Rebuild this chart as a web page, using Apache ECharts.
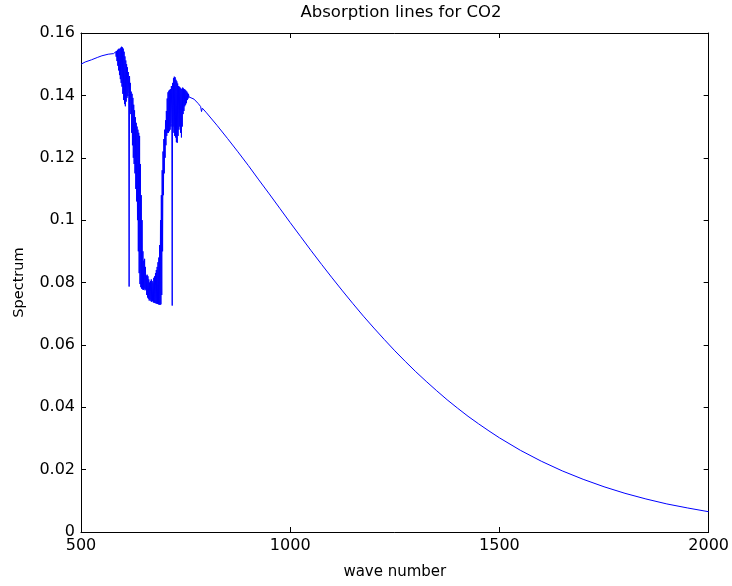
<!DOCTYPE html>
<html>
<head>
<meta charset="utf-8">
<script src="https://cdn.jsdelivr.net/npm/echarts@6/dist/echarts.min.js"></script>
<style>
html,body{margin:0;padding:0;background:#fff;}
#chart{width:732px;height:586px;}
</style>
</head>
<body>
<div id="chart"></div>
<script>
// ---- data ----
var chartTitle = 'Absorption lines for CO2';
var xName = 'wave number';
var yName = 'Spectrum';

// smooth part before the CO2 band
var leftWave = [500, 510, 525, 540, 550, 565];
var leftSpec = [0.1500, 0.1507, 0.1514, 0.1522, 0.1527, 0.1532];

// CO2 band, one value per wave number starting at bandStart (step 1)
var bandStart = 578;
var bandSpec = [
  0.1534, 0.1536, 0.1531, 0.1538, 0.1529, 0.1540, 0.1524, 0.1542, 0.1510, 0.1545, // 578
  0.1495, 0.1548, 0.1480, 0.1550, 0.1465, 0.1549, 0.1452, 0.1553, 0.1440, 0.1556, // 588
  0.1428, 0.1554, 0.1405, 0.1550, 0.1385, 0.1540, 0.1372, 0.1525, 0.1365, 0.1512, // 598
  0.1380, 0.1500, 0.1392, 0.1490, 0.1398, 0.1475, 0.1405, 0.0787, 0.1462, 0.1395, // 608
  0.1440, 0.1340, 0.1412, 0.1280, 0.1405, 0.1240, 0.1392, 0.1200, 0.1370, 0.1180, // 618
  0.1352, 0.1150, 0.1330, 0.1100, 0.1312, 0.1060, 0.1300, 0.1000, 0.1290, 0.0900, // 628
  0.1280, 0.0830, 0.1270, 0.0795, 0.1180, 0.0785, 0.1080, 0.0780, 0.1000, 0.0778, // 638
  0.0900, 0.0776, 0.0870, 0.0780, 0.0876, 0.0775, 0.0850, 0.0778, 0.0822, 0.0760, // 648
  0.0825, 0.0752, 0.0820, 0.0748, 0.0810, 0.0742, 0.0800, 0.0745, 0.0805, 0.0740, // 658
  0.0810, 0.0738, 0.0805, 0.0740, 0.0800, 0.0736, 0.0815, 0.0735, 0.0820, 0.0734, // 668
  0.0830, 0.0733, 0.0840, 0.0732, 0.0850, 0.0731, 0.0865, 0.0730, 0.0880, 0.0729, // 678
  0.0920, 0.0728, 0.1000, 0.0730, 0.1080, 0.0760, 0.1160, 0.0900, 0.1220, 0.1080, // 688
  0.1260, 0.1150, 0.1290, 0.1200, 0.1320, 0.1240, 0.1350, 0.1270, 0.1390, 0.1280, // 698
  0.1410, 0.1280, 0.1415, 0.1285, 0.1418, 0.1290, 0.1420, 0.1300, 0.1430, 0.1310, // 708
  0.0726, 0.1440, 0.1300, 0.1455, 0.1280, 0.1460, 0.1270, 0.1458, 0.1265, 0.1450, // 718
  0.1250, 0.1445, 0.1248, 0.1438, 0.1270, 0.1430, 0.1290, 0.1428, 0.1300, 0.1425, // 728
  0.1280, 0.1422, 0.1265, 0.1420, 0.1300, 0.1425, 0.1340, 0.1422, 0.1350, 0.1420, // 738
  0.1365, 0.1418, 0.1370, 0.1415, 0.1375, 0.1412, 0.1385, 0.1408, 0.1390, 0.1404, // 748
  0.1395, 0.1400, 0.1397                                                          // 758
];

// smooth tail after the band
var rightWave = [770, 780, 786, 788, 790, 800, 825, 850, 875, 900, 925, 950, 975,
  1000, 1025, 1050, 1075, 1100, 1125, 1150, 1175, 1200, 1225, 1250, 1275, 1300,
  1325, 1350, 1375, 1400, 1425, 1450, 1475, 1500, 1550, 1600, 1650, 1700, 1750,
  1800, 1850, 1900, 1950, 2000];
var rightSpec = [0.1388, 0.1374, 0.1364, 0.1348, 0.1359, 0.1344, 0.1304, 0.1262,
  0.1219, 0.1175, 0.1129, 0.1084, 0.1038, 0.0992, 0.0947, 0.0902, 0.0858, 0.0815,
  0.0773, 0.0732, 0.0692, 0.0654, 0.0617, 0.0581, 0.0547, 0.0514, 0.0483, 0.0453,
  0.0424, 0.0397, 0.0371, 0.0347, 0.0324, 0.0302, 0.0262, 0.0227, 0.0196, 0.0169,
  0.0145, 0.0124, 0.0106, 0.0090, 0.0077, 0.0065];

var xTicks = [500, 1000, 1500, 2000];
var yTicks = [0, 0.02, 0.04, 0.06, 0.08, 0.1, 0.12, 0.14, 0.16];

// ---- build series data ----
var points = [];
leftWave.forEach(function (w, i) { points.push([w, leftSpec[i]]); });
bandSpec.forEach(function (v, i) { points.push([bandStart + i, v]); });
rightWave.forEach(function (w, i) { points.push([w, rightSpec[i]]); });

var FONT = 'DejaVu Sans';
var axisCommonX = {
  type: 'value', min: xTicks[0], max: xTicks[xTicks.length - 1], interval: 500,
  axisLine: { show: true, onZero: false, lineStyle: { color: '#000', width: 1 } },
  axisTick: { show: true, inside: true, length: 5, lineStyle: { color: '#000', width: 1 } },
  splitLine: { show: false }
};
var axisCommonY = {
  type: 'value', min: yTicks[0], max: yTicks[yTicks.length - 1], interval: 0.02,
  axisLine: { show: true, onZero: false, lineStyle: { color: '#000', width: 1 } },
  axisTick: { show: true, inside: true, length: 5, lineStyle: { color: '#000', width: 1 } },
  splitLine: { show: false }
};

var chart = echarts.init(document.getElementById('chart'), null, { renderer: 'canvas' });
chart.setOption({
  animation: false,
  backgroundColor: '#fff',
  title: {
    text: chartTitle,
    left: 396, top: -1, textAlign: 'center',
    textStyle: { fontFamily: FONT, fontSize: 16.5, fontWeight: 'normal', color: '#000' }
  },
  grid: { left: 81, right: 21, top: 33, bottom: 54, containLabel: false },
  xAxis: [
    Object.assign({}, axisCommonX, {
      position: 'bottom',
      axisLabel: {
        show: true, color: '#000', fontFamily: FONT, fontSize: 16, margin: 6,
        formatter: function (v) { return String(v); }
      },
      name: xName, nameLocation: 'middle', nameGap: 33,
      nameTextStyle: { fontFamily: FONT, fontSize: 15, color: '#000' }
    }),
    Object.assign({}, axisCommonX, { position: 'top', axisLabel: { show: false } })
  ],
  yAxis: [
    Object.assign({}, axisCommonY, {
      position: 'left',
      axisLabel: {
        show: true, color: '#000', fontFamily: FONT, fontSize: 16, margin: 6,
        formatter: function (v) { return String(parseFloat(v.toFixed(2))); }
      },
      name: yName, nameLocation: 'middle', nameGap: 54, nameRotate: 90,
      nameTextStyle: { fontFamily: FONT, fontSize: 14.5, color: '#000' }
    }),
    Object.assign({}, axisCommonY, { position: 'right', axisLabel: { show: false } })
  ],
  series: [{
    type: 'line',
    xAxisIndex: 0, yAxisIndex: 0,
    data: points,
    showSymbol: false, symbol: 'none',
    sampling: null,
    clip: true,
    lineStyle: { color: '#0000ff', width: 1 },
    emphasis: { disabled: true }
  }]
});
</script>
</body>
</html>
